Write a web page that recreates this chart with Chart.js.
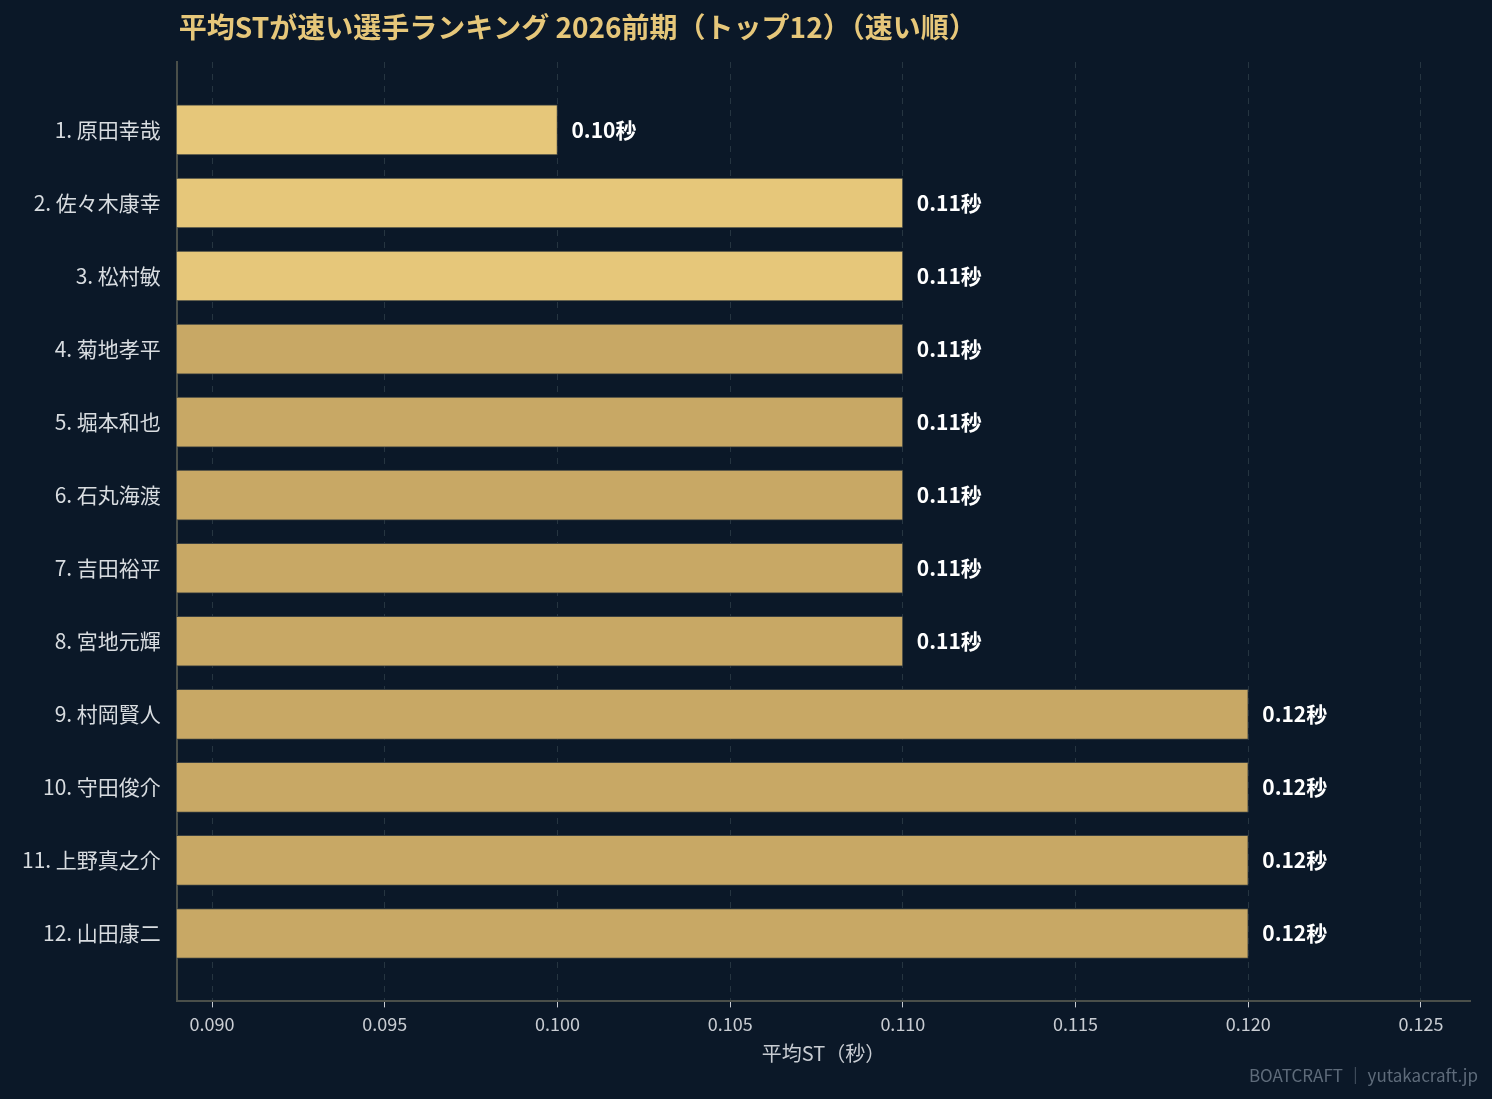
<!DOCTYPE html>
<html><head><meta charset="utf-8">
<script src="https://cdn.jsdelivr.net/npm/chart.js@4"></script>
<style>html,body{margin:0;background:#0b1828;}#wrap{width:1492px;height:1099px;}</style>
</head><body><div id="wrap"><canvas id="c"></canvas></div>
<script>
// data
const names = ["1. 原田幸哉","2. 佐々木康幸","3. 松村敏","4. 菊地孝平","5. 堀本和也","6. 石丸海渡","7. 吉田裕平","8. 宮地元輝","9. 村岡賢人","10. 守田俊介","11. 上野真之介","12. 山田康二"];
const avgST = [0.10,0.11,0.11,0.11,0.11,0.11,0.11,0.11,0.12,0.12,0.12,0.12];
const xTicks = [0.090,0.095,0.100,0.105,0.110,0.115,0.120,0.125];

const FONT = "'Noto Sans CJK JP','Noto Sans',sans-serif";
const barColors = avgST.map((v, i) => i < 3 ? "#e6c77a" : "#c8a865");

const overlay = {
  id: "overlay",
  afterDatasetsDraw(chart) {
    const c = chart.ctx, a = chart.chartArea;
    const meta = chart.getDatasetMeta(0);
    c.save();
    c.fillStyle = "#ffffff";
    c.font = "bold 21px " + FONT;
    c.textBaseline = "middle";
    meta.data.forEach((bar, i) => {
      c.fillText(avgST[i].toFixed(2) + "秒", bar.x + 14, bar.y);
    });
    c.fillStyle = "#e6c77a";
    c.font = "bold 28px " + FONT;
    c.fillText("平均STが速い選手ランキング 2026前期（トップ12）（速い順）", a.left + 2, 27);
    c.fillStyle = "#5e6b7a";
    c.font = "17px " + FONT;
    c.textAlign = "right";
    c.fillText("BOATCRAFT ｜ yutakacraft.jp", 1478, 1076);
    c.restore();
  }
};

new Chart(document.getElementById("c"), {
  type: "bar",
  data: {
    datasets: [{
      data: avgST.map((v, i) => ({ x: v, y: i })),
      backgroundColor: barColors,
      borderColor: "#3a3f3f",
      borderWidth: 1,
      barThickness: 50
    }]
  },
  options: {
    indexAxis: "y",
    responsive: true,
    maintainAspectRatio: false,
    animation: false,
    layout: { padding: { top: 62, right: 22, bottom: 30, left: 14 } },
    plugins: { legend: { display: false }, tooltip: { enabled: false } },
    scales: {
      x: {
        type: "linear",
        min: 0.08898,
        max: 0.12642,
        afterBuildTicks: s => { s.ticks = xTicks.map(v => ({ value: v })); },
        ticks: { color: "#c8ccd2", font: { family: FONT, size: 18 }, callback: v => v.toFixed(3), padding: 6 },
        grid: { color: "rgba(120,140,140,0.25)", tickColor: "#c8ccd2", tickLength: 6 },
        border: { color: "#4a4f4a", width: 2, dash: [6, 6] },
        title: { display: true, text: "平均ST（秒）", color: "#c8ccd2", font: { family: FONT, size: 20 }, padding: { top: 0 } }
      },
      y: {
        type: "linear",
        reverse: true,
        offset: false,
        min: -0.93,
        max: 11.93,
        afterBuildTicks: s => { s.ticks = names.map((n, i) => ({ value: i })); },
        ticks: { color: "#d8dce0", font: { family: FONT, size: 21 }, padding: 8, callback: v => names[v] ?? "" },
        grid: { display: false },
        border: { color: "#4a4f4a", width: 2 }
      }
    }
  },
  plugins: [overlay]
});
</script>
</body></html>
